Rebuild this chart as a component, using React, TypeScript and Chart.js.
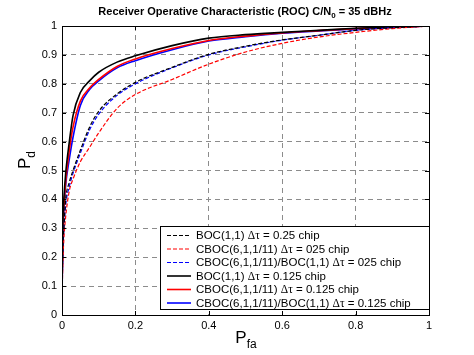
import React, { useEffect, useRef } from "react";
import { Chart, registerables } from "chart.js";
Chart.register(...registerables);

const pfa = [0, 0.002, 0.005, 0.01, 0.02, 0.03, 0.05, 0.075, 0.1, 0.15, 0.2, 0.3, 0.4, 0.5, 0.6, 0.7, 0.8, 0.9, 1];
const pdBoc025 = [0.05, 0.22, 0.3, 0.4, 0.46, 0.5, 0.57, 0.65, 0.705, 0.765, 0.805, 0.857, 0.902, 0.93, 0.952, 0.968, 0.985, 0.994, 1];
const pdCboc025 = [0.04, 0.17, 0.26, 0.34, 0.43, 0.47, 0.53, 0.58, 0.63, 0.715, 0.763, 0.815, 0.868, 0.91, 0.94, 0.962, 0.978, 0.991, 1];
const pdCbocBoc025 = [0.05, 0.2, 0.29, 0.38, 0.445, 0.49, 0.56, 0.64, 0.695, 0.76, 0.8, 0.855, 0.9, 0.928, 0.951, 0.968, 0.985, 0.994, 1];
const pdBoc0125 = [0.07, 0.3, 0.4, 0.49, 0.6, 0.69, 0.77, 0.81, 0.84, 0.875, 0.897, 0.932, 0.958, 0.97, 0.978, 0.985, 0.992, 0.997, 1];
const pdCboc0125 = [0.06, 0.27, 0.37, 0.46, 0.57, 0.65, 0.74, 0.785, 0.815, 0.86, 0.886, 0.922, 0.95, 0.965, 0.976, 0.984, 0.991, 0.996, 1];
const pdCbocBoc0125 = [0.05, 0.25, 0.36, 0.45, 0.54, 0.615, 0.725, 0.78, 0.81, 0.855, 0.88, 0.918, 0.948, 0.963, 0.975, 0.983, 0.99, 0.996, 1];

const seriesLabels = [
  "BOC(1,1) Δτ = 0.25 chip",
  "CBOC(6,1,1/11) Δτ = 025 chip",
  "CBOC(6,1,1/11)/BOC(1,1) Δτ = 025 chip",
  "BOC(1,1) Δτ = 0.125 chip",
  "CBOC(6,1,1/11) Δτ = 0.125 chip",
  "CBOC(6,1,1/11)/BOC(1,1) Δτ = 0.125 chip",
];
const seriesValues = [pdBoc025, pdCboc025, pdCbocBoc025, pdBoc0125, pdCboc0125, pdCbocBoc0125];
const seriesColors = ["#000000", "#ff0000", "#0000ff", "#000000", "#ff0000", "#0000ff"];
const seriesDashed = [true, true, true, false, false, false];

const xTicks = [0, 0.2, 0.4, 0.6, 0.8, 1];
const xTickLabels = ["0", "0.2", "0.4", "0.6", "0.8", "1"];
const yTicks = [0, 0.1, 0.2, 0.3, 0.4, 0.5, 0.6, 0.7, 0.8, 0.9, 1];
const yTickLabels = ["0", "0.1", "0.2", "0.3", "0.4", "0.5", "0.6", "0.7", "0.8", "0.9", "1"];

const SANS = '"Liberation Sans", Arial, sans-serif';
const SERIF = '"Liberation Serif", "DejaVu Serif", serif';

function drawRuns(ctx: CanvasRenderingContext2D, runs: { t: string; font: string; dy: number }[], x: number, y: number, align: "left" | "center") {
  let total = 0;
  for (const r of runs) { ctx.font = r.font; total += ctx.measureText(r.t).width; }
  let cx = align === "center" ? x - total / 2 : x;
  for (const r of runs) {
    ctx.font = r.font;
    ctx.fillText(r.t, cx, y + r.dy);
    cx += ctx.measureText(r.t).width;
  }
}

const decorPlugin = {
  id: "decor",
  afterDraw(chart: any) {
    const ctx: CanvasRenderingContext2D = chart.ctx;
    const { left, right, top, bottom } = chart.chartArea;
    ctx.save();
    // frame
    ctx.strokeStyle = "#000";
    ctx.lineWidth = 1;
    ctx.setLineDash([]);
    ctx.strokeRect(Math.round(left) + 0.5, Math.round(top) + 0.5, Math.round(right - left), Math.round(bottom - top));
    // inward tick marks
    const xs = chart.scales.x, ys = chart.scales.y;
    ctx.beginPath();
    for (const v of xTicks) {
      const px = Math.round(xs.getPixelForValue(v)) + 0.5;
      ctx.moveTo(px, bottom); ctx.lineTo(px, bottom - 4);
      ctx.moveTo(px, top); ctx.lineTo(px, top + 4);
    }
    for (const v of yTicks) {
      const py = Math.round(ys.getPixelForValue(v)) + 0.5;
      ctx.moveTo(left, py); ctx.lineTo(left + 4, py);
      ctx.moveTo(right, py); ctx.lineTo(right - 4, py);
    }
    ctx.stroke();

    // title
    ctx.fillStyle = "#000";
    ctx.textBaseline = "middle";
    drawRuns(ctx, [
      { t: "Receiver Operative Characteristic (ROC) C/N", font: `bold 11px ${SANS}`, dy: 0 },
      { t: "0", font: `bold 8px ${SANS}`, dy: 4 },
      { t: " = 35 dBHz", font: `bold 11px ${SANS}`, dy: 0 },
    ], 245, 12, "center");

    // x label
    drawRuns(ctx, [
      { t: "P", font: `17px ${SANS}`, dy: 0 },
      { t: "fa", font: `12px ${SANS}`, dy: 7 },
    ], 246, 338, "center");

    // y label
    ctx.save();
    ctx.translate(25, 160);
    ctx.rotate(-Math.PI / 2);
    drawRuns(ctx, [
      { t: "P", font: `17px ${SANS}`, dy: 0 },
      { t: "d", font: `12px ${SANS}`, dy: 7 },
    ], 0, 0, "center");
    ctx.restore();

    // legend
    const lx = 160.5, ly = 226.5, lw = 269, lh = 83;
    ctx.fillStyle = "#fff";
    ctx.fillRect(lx, ly, lw, lh);
    ctx.strokeStyle = "#000";
    ctx.lineWidth = 1;
    ctx.strokeRect(lx, ly, lw, lh);
    chart.data.datasets.forEach((ds: any, i: number) => {
      const cy = 235.5 + i * 13.5;
      ctx.strokeStyle = ds.borderColor;
      ctx.lineWidth = ds.borderWidth;
      ctx.setLineDash(ds.borderDash || []);
      ctx.beginPath();
      ctx.moveTo(167, cy); ctx.lineTo(191, cy);
      ctx.stroke();
      ctx.setLineDash([]);
      ctx.fillStyle = "#000";
      ctx.textBaseline = "middle";
      const parts = String(ds.label).split("Δτ");
      drawRuns(ctx, [
        { t: parts[0], font: `11.5px ${SANS}`, dy: 0 },
        { t: "Δτ", font: `11.5px ${SERIF}`, dy: 0 },
        { t: parts[1] || "", font: `11.5px ${SANS}`, dy: 0 },
      ], 196, cy + 0.5, "left");
    });
    ctx.restore();
  },
};

export default function App() {
  const ref = useRef<HTMLCanvasElement | null>(null);
  useEffect(() => {
    if (!ref.current) return;
    const datasets = seriesValues.map((vals, i) => ({
      label: seriesLabels[i],
      data: vals.map((y, j) => ({ x: pfa[j], y })),
      borderColor: seriesColors[i],
      backgroundColor: seriesColors[i],
      borderWidth: seriesDashed[i] ? 1.2 : 1.6,
      borderDash: seriesDashed[i] ? [4, 2] : [],
      pointRadius: 0,
      fill: false,
      cubicInterpolationMode: "monotone" as const,
    }));
    const gridColor = (c: any) => (c.tick && (c.tick.value === 0 || c.tick.value === 1) ? "rgba(0,0,0,0)" : "#8c8c8c");
    const chart = new Chart(ref.current, {
      type: "line",
      data: { datasets },
      options: {
        animation: false,
        responsive: false,
        layout: { padding: { top: 26, right: 45, bottom: 0, left: 0 } },
        plugins: { legend: { display: false }, title: { display: false }, tooltip: { enabled: false } },
        scales: {
          x: {
            type: "linear",
            min: 0,
            max: 1,
            afterBuildTicks: (s: any) => { s.ticks = xTicks.map((v) => ({ value: v })); },
            afterFit: (s: any) => { s.height = 40; },
            ticks: {
              callback: (v: any) => xTickLabels[xTicks.indexOf(Number(v))] ?? "",
              font: { family: SANS, size: 11 },
              color: "#000",
              padding: 4,
              maxRotation: 0,
              autoSkip: false,
            },
            grid: { color: gridColor, drawTicks: false, lineWidth: 1 },
            border: { display: false, dash: [5, 4] },
          },
          y: {
            type: "linear",
            min: 0,
            max: 1,
            afterBuildTicks: (s: any) => { s.ticks = yTicks.map((v) => ({ value: v })); },
            afterFit: (s: any) => { s.width = 62; },
            ticks: {
              callback: (v: any) => {
                const k = yTicks.findIndex((t) => Math.abs(t - Number(v)) < 1e-9);
                return k >= 0 ? yTickLabels[k] : "";
              },
              font: { family: SANS, size: 11 },
              color: "#000",
              padding: 5,
              autoSkip: false,
            },
            grid: { color: gridColor, drawTicks: false, lineWidth: 1 },
            border: { display: false, dash: [5, 4] },
          },
        },
      },
      plugins: [decorPlugin],
    });
    return () => chart.destroy();
  }, []);
  return (
    <div style={{ position: "fixed", left: 0, top: 0, width: 474, height: 355, background: "#fff" }}>
      <canvas ref={ref} width={474} height={355} style={{ width: 474, height: 355, display: "block" }} />
    </div>
  );
}
